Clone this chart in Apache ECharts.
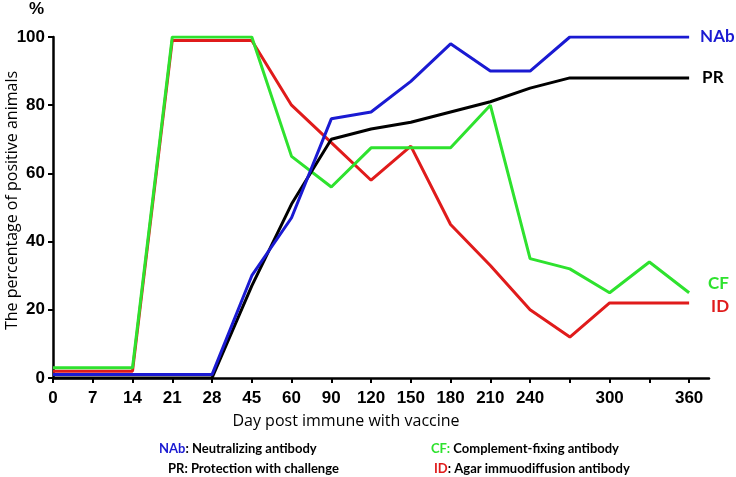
<!DOCTYPE html>
<html>
<head>
<meta charset="utf-8">
<script src="https://cdn.jsdelivr.net/npm/echarts@6/dist/echarts.min.js"></script>
<style>html,body{margin:0;padding:0;background:#fff}#chart{width:736px;height:477px}</style>
</head>
<body>
<div id="chart"></div>
<script>
// Days post immunisation (categories, evenly spaced on the axis)
var days = [0, 7, 14, 21, 28, 45, 60, 90, 120, 150, 180, 210, 240, 270, 300, 330, 360];
// Days whose tick carries no label in the original
var unlabeledDays = [270, 330];
// Y tick values
var yTicks = [0, 20, 40, 60, 80, 100];

// Percentage of positive animals
var nab = [1, 1, 1, 1, 1, 30, 47, 76, 78, 87, 98, 90, 90, 100, 100, 100, 100];
var pr  = [0, 0, 0, 0, 0, 27, 51, 70, 73, 75, 78, 81, 85, 88, 88, 88, 88];
var cf  = [3, 3, 3, 100, 100, 100, 65, 56, 67.5, 67.5, 67.5, 80, 35, 32, 25, 34, 25];
var id  = [2, 2, 2, 99, 99, 99, 80, 69, 58, 68, 45, 33, 20, 12, 22, 22, 22];

var names = ['NAb', 'PR', 'CF', 'ID'];
var colors = ['#1a1ad2', '#000000', '#2ee22e', '#e01b1b'];

function pairs(arr) { return arr.map(function (v, i) { return [i, v]; }); }
var idx = days.map(function (d, i) { return i; });

var chart = echarts.init(document.getElementById('chart'));

function lineSeries(name, data, color, offset, z) {
  return {
    name: name, type: 'line', data: pairs(data), symbol: 'none', z: z,
    lineStyle: { color: color, width: 3 },
    itemStyle: { color: color },
    endLabel: {
      show: true, formatter: name, color: color, distance: 0, offset: offset,
      fontFamily: 'Lato', fontWeight: 'bold', fontSize: 17
    }
  };
}

chart.setOption({
  animation: false,
  backgroundColor: '#ffffff',
  title: {
    text: '%', left: 24, top: -4,
    textStyle: { fontFamily: 'Liberation Sans', fontWeight: 'bold', fontSize: 17, color: '#000' }
  },
  grid: { left: 53, right: 27, top: 37, bottom: 99, containLabel: false, outerBoundsMode: 'none' },
  xAxis: {
    type: 'value', min: 0, max: 16.5,
    name: 'Day post immune with vaccine', nameLocation: 'middle', nameGap: 35,
    nameMoveOverlap: false,
    nameTextStyle: { fontFamily: 'Open Sans', fontSize: 16, color: '#000', padding: [0, 70, 0, 0] },
    axisLine: { onZero: false, lineStyle: { color: '#000', width: 2.5 } },
    axisTick: { show: true, customValues: idx, length: 5, lineStyle: { color: '#000', width: 2 } },
    axisLabel: {
      customValues: idx, margin: 12, color: '#000',
      fontFamily: 'Liberation Sans', fontWeight: 'bold', fontSize: 17,
      formatter: function (v) {
        var d = days[Math.round(v)];
        return unlabeledDays.indexOf(d) >= 0 ? '' : String(d);
      }
    },
    splitLine: { show: false }
  },
  yAxis: {
    type: 'value', min: 0, max: 100, interval: 20,
    name: 'The percentage of positive animals', nameLocation: 'middle', nameGap: 33,
    nameMoveOverlap: false,
    nameTextStyle: { fontFamily: 'Open Sans', fontSize: 16, color: '#000', padding: [0, 0, 0, 14] },
    axisLine: { show: true, lineStyle: { color: '#000', width: 2.5 } },
    axisTick: { show: true, length: 5, lineStyle: { color: '#000', width: 2 } },
    axisLabel: {
      margin: 8, color: '#000',
      fontFamily: 'Liberation Sans', fontWeight: 'bold', fontSize: 17,
      formatter: function (v) { return yTicks.indexOf(v) >= 0 ? String(v) : ''; }
    },
    splitLine: { show: false }
  },
  series: [
    lineSeries(names[3], id, colors[3], [22, 4], 2),
    lineSeries(names[2], cf, colors[2], [19, -9], 3),
    lineSeries(names[1], pr, colors[1], [13, 0], 4),
    lineSeries(names[0], nab, colors[0], [11, 0], 5)
  ],
  graphic: [
    {
      type: 'text', x: 159, y: 449,
      style: {
        text: '{b|NAb}{k|: Neutralizing antibody}', verticalAlign: 'middle',
        rich: {
          b: { fill: colors[0], fontFamily: 'Lato', fontWeight: 'bold', fontSize: 13 },
          k: { fill: '#000', fontFamily: 'Lato', fontWeight: 'bold', fontSize: 13 }
        }
      }
    },
    {
      type: 'text', x: 168, y: 469,
      style: {
        text: '{k|PR: Protection with challenge}', verticalAlign: 'middle',
        rich: { k: { fill: '#000', fontFamily: 'Lato', fontWeight: 'bold', fontSize: 13 } }
      }
    },
    {
      type: 'text', x: 431, y: 449,
      style: {
        text: '{g|CF:}{k| Complement-fixing antibody}', verticalAlign: 'middle',
        rich: {
          g: { fill: colors[2], fontFamily: 'Lato', fontWeight: 'bold', fontSize: 13 },
          k: { fill: '#000', fontFamily: 'Lato', fontWeight: 'bold', fontSize: 13 }
        }
      }
    },
    {
      type: 'text', x: 434, y: 469,
      style: {
        text: '{r|ID}{k|: Agar immuodiffusion antibody}', verticalAlign: 'middle',
        rich: {
          r: { fill: colors[3], fontFamily: 'Lato', fontWeight: 'bold', fontSize: 13 },
          k: { fill: '#000', fontFamily: 'Lato', fontWeight: 'bold', fontSize: 13 }
        }
      }
    }
  ]
});
</script>
</body>
</html>
